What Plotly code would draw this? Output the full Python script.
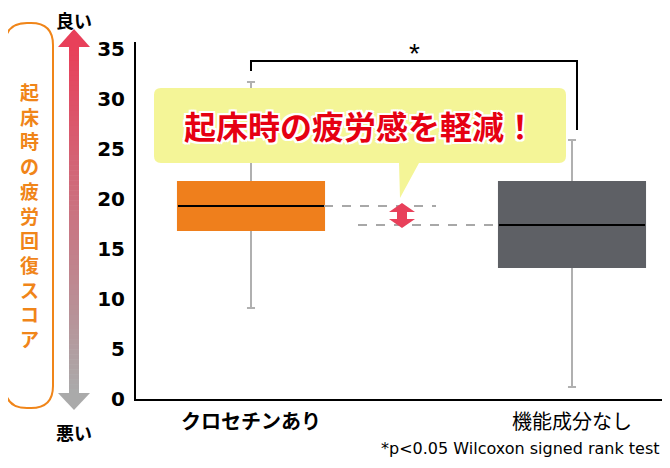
import plotly.graph_objects as go

# --- data ---
categories = ["クロセチンあり", "機能成分なし"]
tick_text = ["<b>クロセチンあり</b>", "機能成分なし"]
q1 = [16.9, 13.2]
median = [19.3, 17.4]
q3 = [21.7, 21.7]
lower = [9.1, 1.2]
upper = [31.7, 25.9]
y_ticks = [0, 5, 10, 15, 20, 25, 30, 35]

box_colors = ["#ef7f1c", "#5e6065"]
whisker_color = "#b0b0b0"
orange = "#f08519"
jp_font = "Noto Sans CJK JP"

# the page puts the figure 8px in from the window corner; work in window pixels
OFF = 8
W, H = 670 - 2 * OFF, 468 - 2 * OFF
L, T, R, B = 136, 42, OFF + W, 399


def fx(x):
    return (x - L) / (R - L)


def fy(y):
    return (B - y) / (B - T)


def pt(x, y):
    return f"{fx(x):.5f},{fy(y):.5f}"


def rounded_path(x0, y0, x1, y1, r, pointer=None):
    p = f"M{pt(x0 + r, y0)} L{pt(x1 - r, y0)} Q{pt(x1, y0)} {pt(x1, y0 + r)} "
    p += f"L{pt(x1, y1 - r)} Q{pt(x1, y1)} {pt(x1 - r, y1)} "
    if pointer:
        for (a, b) in pointer:
            p += f"L{pt(a, b)} "
    p += f"L{pt(x0 + r, y1)} Q{pt(x0, y1)} {pt(x0, y1 - r)} "
    p += f"L{pt(x0, y0 + r)} Q{pt(x0, y0)} {pt(x0 + r, y0)} Z"
    return p


fig = go.Figure()

box_w = 0.455
for i, cat in enumerate(categories):
    # whiskers (grey)
    fig.add_trace(go.Box(
        x=[cat], q1=[q1[i]], median=[median[i]], q3=[q3[i]],
        lowerfence=[lower[i]], upperfence=[upper[i]],
        width=box_w, whiskerwidth=0.055, fillcolor=box_colors[i],
        line=dict(color=whisker_color, width=2), hoverinfo="skip"))
    # solid box on top, hiding the grey outline
    fig.add_trace(go.Box(
        x=[cat], q1=[q1[i]], median=[median[i]], q3=[q3[i]],
        lowerfence=[q1[i]], upperfence=[q3[i]],
        width=box_w, whiskerwidth=0, fillcolor=box_colors[i],
        line=dict(color=box_colors[i], width=2), hoverinfo="skip"))
    # black median line
    fig.add_trace(go.Box(
        x=[cat], q1=[median[i]], median=[median[i]], q3=[median[i]],
        lowerfence=[median[i]], upperfence=[median[i]],
        width=box_w, whiskerwidth=0, fillcolor="rgba(0,0,0,0)",
        line=dict(color="black", width=2), hoverinfo="skip"))

shapes = []

# dashed guides at the medians
shapes.append(dict(type="line", xref="paper", yref="y", x0=fx(324), x1=fx(436),
                   y0=median[0], y1=median[0], line=dict(color="#a8a8a8", width=2, dash="dash")))
shapes.append(dict(type="line", xref="paper", yref="y", x0=fx(358), x1=fx(500),
                   y0=median[1], y1=median[1], line=dict(color="#a8a8a8", width=2, dash="dash")))

# red double arrow between the medians
ax, hw, sw, hh = 402, 13, 5, 0.9
top, bot = median[0] + 0.3, median[1] - 0.3
arrow = (f"M{fx(ax):.5f},{top} L{fx(ax + hw):.5f},{top - hh} L{fx(ax + sw):.5f},{top - hh} "
         f"L{fx(ax + sw):.5f},{bot + hh} L{fx(ax + hw):.5f},{bot + hh} L{fx(ax):.5f},{bot} "
         f"L{fx(ax - hw):.5f},{bot + hh} L{fx(ax - sw):.5f},{bot + hh} L{fx(ax - sw):.5f},{top - hh} "
         f"L{fx(ax - hw):.5f},{top - hh} Z")
shapes.append(dict(type="path", xref="paper", yref="y", path=arrow,
                   fillcolor="#e8405a", line=dict(width=0)))

# speech bubble
shapes.append(dict(type="path", xref="paper", yref="paper",
                   path=rounded_path(154, 88, 566, 163, 7, pointer=[(419, 163), (400, 198), (399, 163)]),
                   fillcolor="#f4f597", line=dict(width=0)))

# significance bracket
shapes.append(dict(type="path", xref="paper", yref="paper",
                   path=f"M{pt(251, 71)} L{pt(251, 61)} L{pt(577, 61)} L{pt(577, 130)}",
                   line=dict(color="black", width=2)))

# left side: orange rounded frame
shapes.append(dict(type="path", xref="paper", yref="paper",
                   path=rounded_path(5, 23, 53, 408, 22),
                   line=dict(color=orange, width=2)))

# left side: gradient arrow (red at top -> grey at bottom)
c_top, c_bot = (232, 64, 90), (170, 170, 170)
n = 70
y_start, y_end = 46, 394
for k in range(n):
    t = k / (n - 1)
    col = tuple(round(c_top[j] + (c_bot[j] - c_top[j]) * t) for j in range(3))
    ya = y_start + (y_end - y_start) * k / n
    yb = y_start + (y_end - y_start) * (k + 1) / n + 0.6
    shapes.append(dict(type="rect", xref="paper", yref="paper",
                       x0=fx(69), x1=fx(79), y0=fy(ya), y1=fy(yb),
                       fillcolor=f"rgb{col}", line=dict(width=0)))
shapes.append(dict(type="path", xref="paper", yref="paper",
                   path=f"M{pt(74, 29)} L{pt(90, 47)} L{pt(58, 47)} Z",
                   fillcolor="rgb(232,64,90)", line=dict(width=0)))
shapes.append(dict(type="path", xref="paper", yref="paper",
                   path=f"M{pt(74, 410)} L{pt(90, 393)} L{pt(58, 393)} Z",
                   fillcolor="rgb(170,170,170)", line=dict(width=0)))

white_edge = ", ".join(f"{a}px {b}px 0 #fff" for a in (-2, 0, 2) for b in (-2, 0, 2) if a or b)

annotations = [
    dict(x=fx(360), y=fy(125), text="起床時の疲労感を軽減！",
         font=dict(family=jp_font, size=32, color="#e60012", weight="bold", shadow=white_edge)),
    dict(x=fx(414), y=fy(53), text="*",
         font=dict(family="Liberation Sans", size=28, color="black")),
    dict(x=fx(74), y=fy(20), text="良い",
         font=dict(family=jp_font, size=18, color="black", weight="bold")),
    dict(x=fx(74), y=fy(432), text="悪い",
         font=dict(family=jp_font, size=18, color="black", weight="bold")),
    dict(x=fx(661), y=fy(448), xanchor="right", text="*p<0.05 Wilcoxon signed rank test",
         font=dict(family="DejaVu Sans", size=16, color="black")),
    # vertical axis title, one character per line
    dict(x=fx(29), y=fy(215), text="<br>".join("起床時の疲労回復スコア"),
         font=dict(family=jp_font, size=19, color=orange, weight="bold")),
]
for a in annotations:
    a.setdefault("xref", "paper")
    a.setdefault("yref", "paper")
    a.setdefault("xanchor", "center")
    a.setdefault("yanchor", "middle")
    a.setdefault("showarrow", False)

fig.update_layout(
    width=W, height=H,
    margin=dict(l=L - OFF, r=0, t=T - OFF, b=OFF + H - B),
    paper_bgcolor="white", plot_bgcolor="white",
    showlegend=False, boxmode="overlay",
    shapes=shapes, annotations=annotations,
    xaxis=dict(type="category", categoryarray=categories,
               range=[-(251 - L) / 321, 1 + (R - 572) / 321],
               tickvals=categories, ticktext=tick_text, ticks="",
               tickfont=dict(family=jp_font, size=20, color="black"),
               showline=True, linecolor="black", linewidth=2,
               showgrid=False, zeroline=False, ticklabelstandoff=4),
    yaxis=dict(range=[0, 35.7], tickvals=y_ticks, ticks="",
               tickfont=dict(family="DejaVu Sans", size=20, color="black", weight="bold"),
               showline=True, linecolor="black", linewidth=2,
               showgrid=False, zeroline=False, ticklabelstandoff=5),
)

fig.write_html("out.html")
